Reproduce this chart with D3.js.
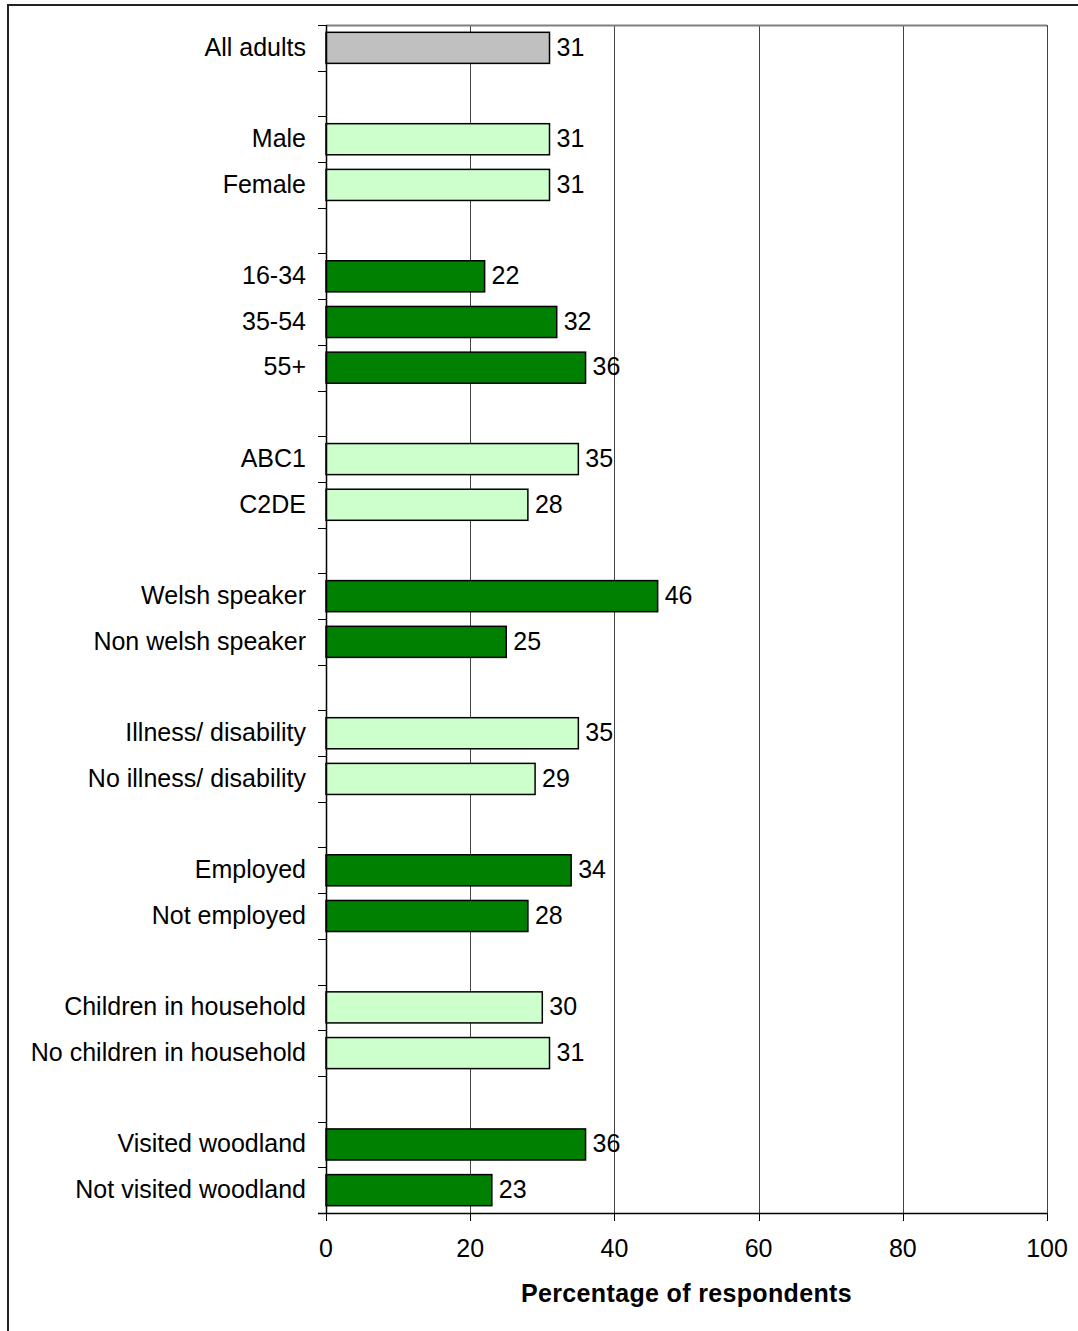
<!DOCTYPE html>
<html>
<head>
<meta charset="utf-8">
<script src="https://cdn.jsdelivr.net/npm/d3@7"></script>
<style>
  body { margin: 0; background: #fff; }
  svg text { font-family: "Liberation Sans", Arial, sans-serif; fill: #000; }
</style>
</head>
<body>
<div id="chart"></div>
<script>
// categories in drawing order; "" marks an empty gap row between groups
const categories = [
    "All adults", "",
    "Male", "Female", "",
    "16-34", "35-54", "55+", "",
    "ABC1", "C2DE", "",
    "Welsh speaker", "Non welsh speaker", "",
    "Illness/ disability", "No illness/ disability", "",
    "Employed", "Not employed", "",
    "Children in household", "No children in household", "",
    "Visited woodland", "Not visited woodland"
];
const values = [
    31, null,
    31, 31, null,
    22, 32, 36, null,
    35, 28, null,
    46, 25, null,
    35, 29, null,
    34, 28, null,
    30, 31, null,
    36, 23
];
const colourGroup = [
    "all", null,
    "light", "light", null,
    "dark", "dark", "dark", null,
    "light", "light", null,
    "dark", "dark", null,
    "light", "light", null,
    "dark", "dark", null,
    "light", "light", null,
    "dark", "dark"
];
const xTicks = [0, 20, 40, 60, 80, 100];
const xTitle = "Percentage of respondents";

const width = 1078, height = 1331;
const margin = { top: 25, right: 31, bottom: 118, left: 326 };
const fontSize = 25;

const svg = d3.select("#chart").append("svg")
    .attr("width", width)
    .attr("height", height);

// outer frame (left and top edges only visible)
svg.append("path")
    .attr("d", "M8," + height + "V5H" + width)
    .attr("fill", "none")
    .attr("stroke", "#222")
    .attr("stroke-width", 2);

const slots = categories.map((c, i) => "s" + i);
const rows = categories.map((c, i) => ({ key: slots[i], label: c, value: values[i], group: colourGroup[i] }));

const x = d3.scaleLinear()
    .domain([0, 100])
    .range([margin.left, width - margin.right]);

const y = d3.scaleBand()
    .domain(slots)
    .range([margin.top, height - margin.bottom])
    .paddingInner(0.32)
    .paddingOuter(0.16);

const color = d3.scaleOrdinal()
    .domain(["all", "light", "dark"])
    .range(["#c0c0c0", "#ccffcc", "#008000"]);

const plotTop = margin.top, plotBottom = height - margin.bottom;

// gridlines + plot border
svg.append("g")
    .selectAll("line")
    .data(xTicks.slice(1))
    .join("line")
    .attr("x1", d => Math.round(x(d)) + 0.5)
    .attr("x2", d => Math.round(x(d)) + 0.5)
    .attr("y1", plotTop)
    .attr("y2", plotBottom)
    .attr("stroke", "#444")
    .attr("stroke-width", 1);

svg.append("line")
    .attr("x1", x(0)).attr("x2", x(100))
    .attr("y1", plotTop + 0.5).attr("y2", plotTop + 0.5)
    .attr("stroke", "#808080")
    .attr("stroke-width", 2);

// y axis: ticks at slot boundaries, labels centred on bars
const step = y.step();
const boundaries = d3.range(categories.length + 1).map(i => plotTop + i * step);

svg.append("g")
    .selectAll("line")
    .data(boundaries)
    .join("line")
    .attr("x1", x(0) - 8)
    .attr("x2", x(0))
    .attr("y1", d => Math.round(d) + 0.5)
    .attr("y2", d => Math.round(d) + 0.5)
    .attr("stroke", "#000");

svg.append("g")
    .selectAll("text")
    .data(rows.filter(d => d.label))
    .join("text")
    .attr("x", x(0) - 20)
    .attr("y", d => y(d.key) + y.bandwidth() / 2 - 1)
    .attr("dy", "0.35em")
    .attr("text-anchor", "end")
    .attr("font-size", fontSize)
    .text(d => d.label);

// bars
svg.append("g")
    .selectAll("rect")
    .data(rows.filter(d => d.value != null))
    .join("rect")
    .attr("x", x(0))
    .attr("y", d => y(d.key))
    .attr("width", d => x(d.value) - x(0))
    .attr("height", y.bandwidth())
    .attr("fill", d => color(d.group))
    .attr("stroke", "#000")
    .attr("stroke-width", 1.5);

// value labels
svg.append("g")
    .selectAll("text")
    .data(rows.filter(d => d.value != null))
    .join("text")
    .attr("x", d => x(d.value) + 7)
    .attr("y", d => y(d.key) + y.bandwidth() / 2 - 1)
    .attr("dy", "0.35em")
    .attr("font-size", fontSize)
    .text(d => d.value);

// axis lines
svg.append("line")
    .attr("x1", x(0) + 0.5).attr("x2", x(0) + 0.5)
    .attr("y1", plotTop).attr("y2", plotBottom)
    .attr("stroke", "#000").attr("stroke-width", 1.5);

svg.append("line")
    .attr("x1", x(0) - 8).attr("x2", x(100))
    .attr("y1", plotBottom + 0.5).attr("y2", plotBottom + 0.5)
    .attr("stroke", "#000").attr("stroke-width", 1.5);

// x axis ticks and labels
const xAxis = svg.append("g");
xAxis.selectAll("line")
    .data(xTicks)
    .join("line")
    .attr("x1", d => Math.round(x(d)) + 0.5)
    .attr("x2", d => Math.round(x(d)) + 0.5)
    .attr("y1", plotBottom)
    .attr("y2", plotBottom + 8)
    .attr("stroke", "#000");

xAxis.selectAll("text")
    .data(xTicks)
    .join("text")
    .attr("x", d => x(d))
    .attr("y", plotBottom + 44)
    .attr("text-anchor", "middle")
    .attr("font-size", fontSize)
    .text(d => d);

svg.append("text")
    .attr("x", (x(0) + x(100)) / 2)
    .attr("y", plotBottom + 89)
    .attr("text-anchor", "middle")
    .attr("font-size", fontSize)
    .attr("font-weight", "bold")
    .attr("letter-spacing", 0.35)
    .text(xTitle);
</script>
</body>
</html>
